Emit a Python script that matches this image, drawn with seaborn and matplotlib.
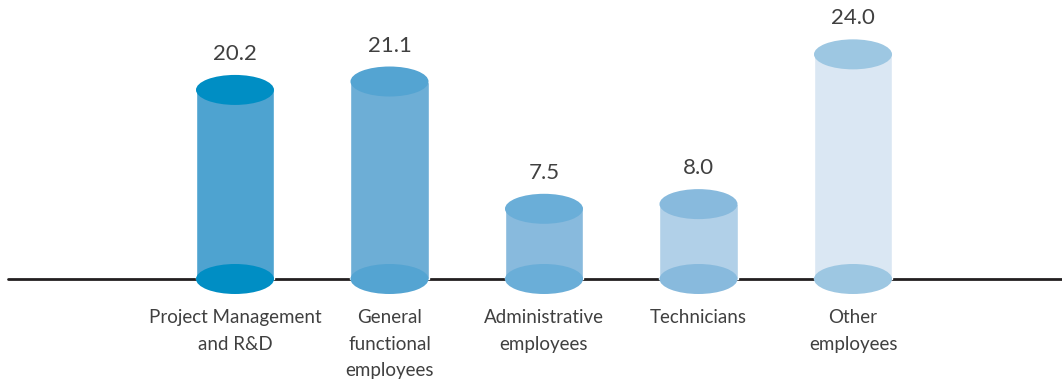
import matplotlib
matplotlib.use("Agg")
import matplotlib.pyplot as plt
from matplotlib.patches import Ellipse
import seaborn as sns
import pandas as pd

categories = ["Project Management\nand R&D", "General\nfunctional\nemployees",
              "Administrative\nemployees", "Technicians", "Other\nemployees"]
values = [20.2, 21.1, 7.5, 8.0, 24.0]
value_labels = ["20.2", "21.1", "7.5", "8.0", "24.0"]
body_colors = ["#4ea3d0", "#6daed6", "#88badd", "#b1d0e8", "#dae7f3"]
cap_colors = ["#008ec4", "#54a4d2", "#6aaed8", "#88badd", "#9dc7e2"]

sns.set_theme(style="white")
plt.rcParams["font.family"] = ["Lato", "DejaVu Sans"]

fig = plt.figure(figsize=(10.62, 3.8), dpi=100)
ax = fig.add_axes([0, 0, 1, 1])

df = pd.DataFrame({"cat": categories, "val": values})
bar_w = 0.505
sns.barplot(data=df, x="cat", y="val", hue="cat", palette=body_colors,
            width=bar_w, legend=False, ax=ax, saturation=1, zorder=3)

px_per_unit = 9.36
ell_h = 30 / px_per_unit
ax.set_xlim(-235 / 154.5, (1062 - 235) / 154.5)
ax.set_ylim(-101 / px_per_unit, 279 / px_per_unit)

ax.axhline(0, xmin=8 / 1062, xmax=1, color="#231f20", lw=2.0, zorder=2)

for p, v, lab, cc, cat in zip(ax.patches, values, value_labels, cap_colors, categories):
    cx = p.get_x() + p.get_width() / 2
    w = p.get_width()
    ax.add_patch(Ellipse((cx, 0), w, ell_h, color=cc, zorder=4, lw=0))
    ax.add_patch(Ellipse((cx, v), w, ell_h, color=cc, zorder=5, lw=0))
    ax.annotate(lab, (cx, v), xytext=(0, 36 * 0.72), textcoords="offset points",
                ha="center", va="center", fontsize=16, color="#404040",
                fontweight="normal")
    ax.text(cx, -30 / px_per_unit, cat, ha="center", va="top", fontsize=13.5,
            color="#404040", linespacing=1.68, fontweight="normal")

ax.set_xticks([])
ax.set_yticks([])
ax.set_xlabel("")
ax.set_ylabel("")
for s in ax.spines.values():
    s.set_visible(False)

fig.savefig("out.png", dpi=100, facecolor="white")
